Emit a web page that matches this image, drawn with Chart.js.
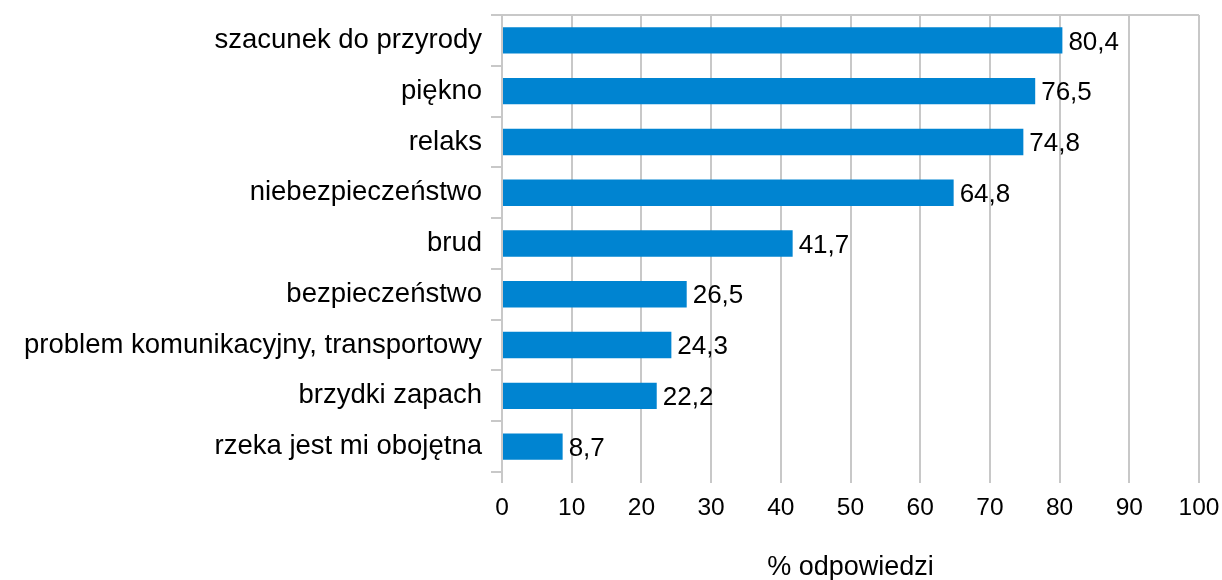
<!DOCTYPE html>
<html>
<head>
<meta charset="utf-8">
<script src="https://cdn.jsdelivr.net/npm/chart.js@4"></script>
<style>
html,body{margin:0;padding:0;background:#fff;}
#wrap{width:1222px;height:580px;}
</style>
</head>
<body>
<div id="wrap"><canvas id="c" width="1222" height="580"></canvas></div>
<script>
const categories = [
  "szacunek do przyrody",
  "piękno",
  "relaks",
  "niebezpieczeństwo",
  "brud",
  "bezpieczeństwo",
  "problem komunikacyjny, transportowy",
  "brzydki zapach",
  "rzeka jest mi obojętna"
];
const values = [80.4, 76.5, 74.8, 64.8, 41.7, 26.5, 24.3, 22.2, 8.7];
const xTicks = [0, 10, 20, 30, 40, 50, 60, 70, 80, 90, 100];
const axisTitle = "% odpowiedzi";

const FONT = "'Liberation Sans', Arial, sans-serif";
const GRID = "#c8c8c8";

const labelPlugin = {
  id: 'valueLabels',
  afterDatasetsDraw(chart) {
    const ctx = chart.ctx;
    const meta = chart.getDatasetMeta(0);
    ctx.save();
    ctx.font = "26px " + FONT;
    ctx.fillStyle = "#000";
    ctx.textAlign = "left";
    ctx.textBaseline = "middle";
    meta.data.forEach((bar, i) => {
      const txt = values[i].toFixed(1).replace('.', ',');
      ctx.fillText(txt, bar.x + 6, bar.y + 2);
    });
    ctx.restore();
  }
};

new Chart(document.getElementById('c'), {
  type: 'bar',
  data: {
    labels: categories,
    datasets: [{
      data: values,
      backgroundColor: '#0084d1',
      borderWidth: 0,
      barPercentage: 0.52,
      categoryPercentage: 1
    }]
  },
  plugins: [labelPlugin],
  options: {
    indexAxis: 'y',
    responsive: false,
    animation: false,
    layout: { padding: { top: 15, right: 23, bottom: 0, left: 0 } },
    plugins: { legend: { display: false }, tooltip: { enabled: false } },
    scales: {
      x: {
        min: 0, max: 100,
        afterBuildTicks(scale) { scale.ticks = xTicks.map(v => ({ value: v })); },
        afterFit(scale) { scale.height = 108; scale.paddingLeft = 0; scale.paddingRight = 0; },
        border: { display: false },
        grid: { color: GRID, lineWidth: 2, tickLength: 11, tickColor: GRID },
        ticks: { color: '#000', font: { family: FONT, size: 24.5 }, padding: 11, maxRotation: 0 },
        title: { display: true, text: axisTitle, color: '#000', font: { family: FONT, size: 27, lineHeight: 0.9 }, padding: { top: 30, bottom: 0 } }
      },
      y: {
        afterFit(scale) { scale.width = 502; scale.paddingTop = 0; scale.paddingBottom = 0; },
        border: { display: true, color: GRID, width: 2 },
        grid: {
          offset: true,
          color: (c) => (c.index === 0 || c.index === categories.length) ? GRID : 'rgba(0,0,0,0)',
          lineWidth: 2,
          tickLength: 11,
          tickColor: GRID
        },
        ticks: { color: '#000', font: { family: FONT, size: 27.5 }, padding: 9 }
      }
    }
  }
});
</script>
</body>
</html>
